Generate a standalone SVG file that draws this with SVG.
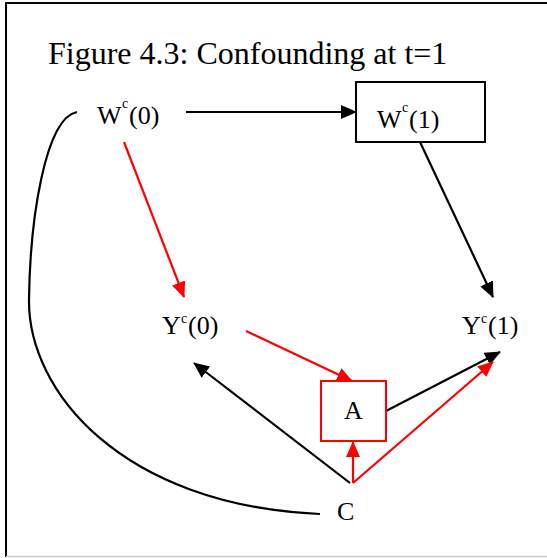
<svg xmlns="http://www.w3.org/2000/svg" width="547" height="558" viewBox="0 0 547 558">
<defs>
<marker id="ab" markerUnits="userSpaceOnUse" markerWidth="18" markerHeight="16" refX="15" refY="7" orient="auto"><path d="M0,0 L16,7 L0,14 z" fill="#000"/></marker>
<marker id="ar" markerUnits="userSpaceOnUse" markerWidth="18" markerHeight="16" refX="15" refY="7" orient="auto"><path d="M0,0 L16,7 L0,14 z" fill="#f00"/></marker>
</defs>
<style>
.t{font-family:"Liberation Serif","Times New Roman",serif;font-size:26px;fill:#000}
.s{font-family:"Liberation Serif","Times New Roman",serif;font-size:14px;fill:#000}
.b{stroke:#000;stroke-width:2.2;fill:none}
.r{stroke:#f00;stroke-width:2.2;fill:none}
</style>
<rect x="0" y="0" width="547" height="558" fill="#fff"/>
<path d="M6,557 V3 H547" stroke="#000" stroke-width="2" fill="none"/>
<line x1="6" y1="556.5" x2="547" y2="556.5" stroke="#c8c8c8" stroke-width="1.5"/>
<text x="48" y="64" class="t" style="font-size:32px">Figure 4.3: Confounding at t=1</text>
<g id="connectors">
<path class="b" d="M77,112 C45,118 30,220 29,300 C28,390 120,505 320,514"/>
<line class="b" x1="186" y1="112" x2="356" y2="112" marker-end="url(#ab)"/>
<line class="b" x1="420" y1="142" x2="493" y2="297" marker-end="url(#ab)"/>
<line class="r" x1="124" y1="142" x2="184" y2="297" marker-end="url(#ar)"/>
<line class="r" x1="246" y1="331" x2="352" y2="381" marker-end="url(#ar)"/>
<line class="b" x1="386" y1="411" x2="500" y2="352" marker-end="url(#ab)"/>
<line class="b" x1="350" y1="483" x2="194" y2="363" marker-end="url(#ab)"/>
<line class="r" x1="353" y1="483" x2="353" y2="442" marker-end="url(#ar)"/>
<line class="r" x1="353" y1="483" x2="493" y2="362" marker-end="url(#ar)"/>
</g>
<g id="W0"><text x="97" y="124" class="t">W</text><text x="122" y="108" class="s">c</text><text x="129" y="124" class="t">(0)</text></g>
<g id="W1"><rect x="356" y="82" width="129" height="60" fill="none" stroke="#000" stroke-width="2"/><text x="377" y="128" class="t">W</text><text x="402" y="112" class="s">c</text><text x="409" y="128" class="t">(1)</text></g>
<g id="Y0"><text x="162" y="334" class="t">Y</text><text x="181" y="323" class="s">c</text><text x="188" y="334" class="t">(0)</text></g>
<g id="Y1"><text x="462" y="334" class="t">Y</text><text x="481" y="323" class="s">c</text><text x="488" y="334" class="t">(1)</text></g>
<g id="A"><rect x="321" y="381" width="65" height="60" fill="#fff" stroke="#f00" stroke-width="2"/><text x="344" y="419" class="t">A</text></g>
<g id="C"><text x="337" y="520" class="t">C</text></g>
</svg>
